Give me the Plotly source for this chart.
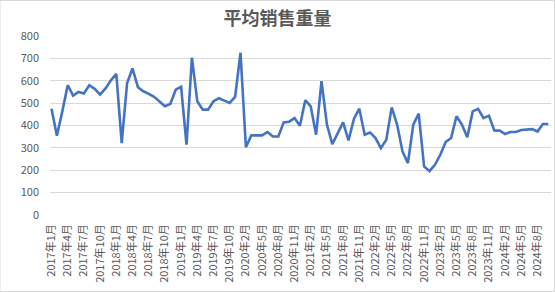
import plotly.graph_objects as go

# Monthly categories (2020年1月 absent in the source series)
months = []
for yr in range(2017, 2025):
    for m in range(1, 13):
        if yr == 2020 and m == 1:
            continue
        if yr == 2024 and m > 10:
            continue
        months.append(f"{yr}年{m}月")

values = [
    475, 354, 463, 580, 534, 550, 543, 580, 564, 538, 566, 602,
    631, 321, 590, 655, 571, 553, 541, 528, 507, 486, 496, 560,
    573, 314, 703, 508, 471, 471, 508, 522, 511, 501, 528, 725,
    303, 356, 356, 356, 371, 351, 351, 414, 417, 433, 399, 513,
    486, 359, 598, 404, 317, 366, 414, 333, 429, 475, 359, 369,
    344, 299, 336, 481, 404, 284, 232, 404, 453, 217, 196, 224,
    269, 326, 344, 441, 404, 347, 463, 474, 433, 444, 378, 377,
    362, 371, 371, 380, 381, 384, 373, 407, 407,
]

tick_labels = months[::3]
y_ticks = [0, 100, 200, 300, 400, 500, 600, 700, 800]

fig = go.Figure()
fig.add_trace(go.Scatter(
    x=list(range(len(values))), y=values, mode="lines",
    line=dict(color="#4472C4", width=2.6),
    hoverinfo="skip",
))

fig.update_layout(
    width=555, height=292,
    margin=dict(l=50, r=4, t=36, b=77),
    paper_bgcolor="white", plot_bgcolor="white",
    showlegend=False,
    font=dict(family="Noto Sans CJK SC, Noto Sans, sans-serif", size=11, color="#595959"),
    title=dict(text="<b>平均销售重量</b>", x=0.5, xanchor="center", y=0.935, yanchor="middle",
               font=dict(size=18, color="#595959", family="Noto Sans CJK SC")),
    xaxis=dict(
        range=[-0.28, 92.5],
        tickmode="array",
        tickvals=list(range(0, len(values), 3))[:len(tick_labels)],
        ticktext=tick_labels,
        tickangle=-90,
        showgrid=False, zeroline=False, showline=False,
        ticks="", ticklabelstandoff=6,
        tickfont=dict(size=11, color="#595959"),
    ),
    yaxis=dict(
        range=[0, 800],
        tickmode="array", tickvals=y_ticks,
        showgrid=True, gridcolor="#d9d9d9", gridwidth=1,
        zeroline=False, showline=False, ticks="",
        ticklabelstandoff=10,
        tickfont=dict(size=11, color="#595959"),
    ),
    shapes=[dict(type="rect", xref="paper", yref="paper",
                 x0=-50/501, x1=1+3.5/501, y0=-76.5/179, y1=1+35.5/179,
                 line=dict(color="#d9d9d9", width=1))],
)

fig.write_html("out.html")
